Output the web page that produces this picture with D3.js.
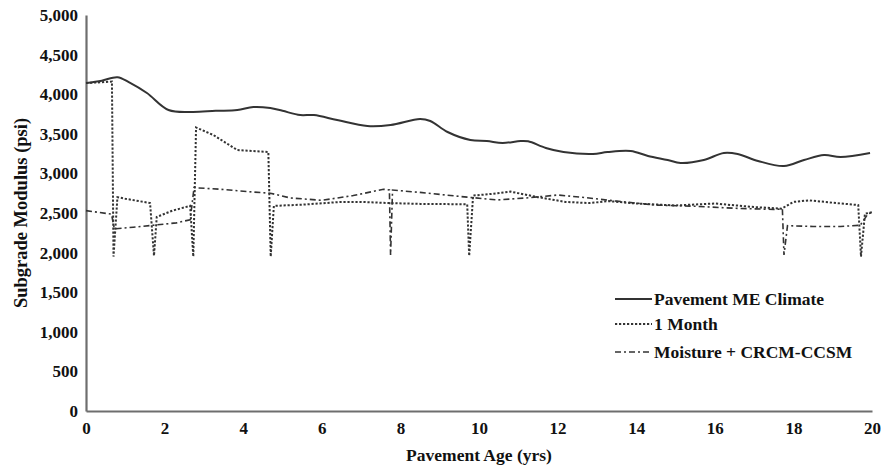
<!DOCTYPE html>
<html>
<head>
<meta charset="utf-8">
<script src="https://cdn.jsdelivr.net/npm/d3@7"></script>
<style>
  html, body { margin: 0; padding: 0; background: #fff; }
  svg { display: block; }
  text { font-family: "Liberation Serif", "Times New Roman", serif; font-weight: bold; fill: #111; }
</style>
</head>
<body>
<svg id="chart" width="885" height="470"></svg>
<script>
// Subgrade modulus over pavement age for three climate inputs
const yTicks = [0, 500, 1000, 1500, 2000, 2500, 3000, 3500, 4000, 4500, 5000];
const xTicks = [0, 2, 4, 6, 8, 10, 12, 14, 16, 18, 20];

// [age (yrs), modulus (psi)]
const pavementMEClimate = [
  [0, 4140], [0.4, 4170], [0.8, 4215], [1.1, 4150], [1.55, 4015], [2.1, 3800],
  [2.7, 3775], [3.3, 3790], [3.85, 3800], [4.26, 3838], [4.69, 3825], [5.0, 3790],
  [5.45, 3737], [5.8, 3737], [6.39, 3674], [7.16, 3598], [7.75, 3611], [8.5, 3687],
  [8.76, 3662], [9.2, 3523], [9.78, 3422], [10.2, 3409], [10.6, 3384], [11.06, 3409],
  [11.25, 3405], [11.7, 3321], [12.15, 3270], [12.9, 3245], [13.27, 3270], [13.86, 3283],
  [14.3, 3220], [14.8, 3169], [15.13, 3131], [15.72, 3169], [16.23, 3258], [16.58, 3245],
  [17.1, 3157], [17.76, 3093], [18.27, 3169], [18.78, 3232], [19.2, 3207], [19.95, 3258]
];

const oneMonth = [
  [0, 4140], [0.66, 4160], [0.70, 1950], [0.80, 2700], [1.0, 2680], [1.63, 2626],
  [1.73, 1960], [1.80, 2450], [2.2, 2530], [2.65, 2590], [2.73, 1950], [2.80, 3580],
  [3.24, 3485], [3.85, 3295], [4.64, 3270], [4.70, 1950], [4.78, 2590], [5.5, 2605],
  [6.5, 2640], [7.0, 2640], [7.75, 2625], [8.5, 2615], [9.7, 2610], [9.75, 1960],
  [9.85, 2720], [10.3, 2740], [10.8, 2770], [11.5, 2700], [12.2, 2640], [12.8, 2625],
  [13.3, 2650], [14.0, 2620], [15.0, 2595], [16.0, 2620], [17.0, 2575], [17.7, 2555],
  [18.0, 2640], [18.4, 2660], [19.0, 2630], [19.65, 2600], [19.72, 1950], [19.82, 2490],
  [20, 2510]
];

const moistureCRCM = [
  [0, 2530], [0.65, 2485], [0.72, 2300], [1.2, 2320], [1.7, 2345], [2.3, 2375],
  [2.65, 2415], [2.75, 2820], [3.4, 2800], [4.26, 2765], [4.69, 2750], [5.2, 2690],
  [6.0, 2660], [6.8, 2720], [7.57, 2800], [7.72, 2790], [7.75, 1970], [7.80, 2790],
  [8.5, 2760], [9.7, 2700], [10.47, 2665], [11.2, 2690], [12.0, 2727], [12.6, 2700],
  [13.5, 2650], [14.5, 2600], [15.5, 2585], [16.5, 2560], [17.5, 2545], [17.72, 2550],
  [17.76, 1970], [17.85, 2340], [18.5, 2330], [19.2, 2330], [19.7, 2345], [19.9, 2490],
  [20, 2510]
];

const seriesNames = ["Pavement ME Climate", "1 Month", "Moisture + CRCM-CCSM"];

const svg = d3.select("#chart");
const margin = { left: 86, top: 15, right: 13, bottom: 59 };
const W = 885, H = 470;

const x = d3.scaleLinear().domain([0, 20]).range([margin.left, W - margin.right]);
const y = d3.scaleLinear().domain([0, 5000]).range([H - margin.bottom, margin.top]);

// axes: plain gray baselines with bold serif labels, no tick marks
const xAxis = d3.axisBottom(x).tickValues(xTicks).tickSize(0).tickPadding(11);
const yAxis = d3.axisLeft(y).tickValues(yTicks).tickSize(0).tickPadding(8)
  .tickFormat(d3.format(","));

const gx = svg.append("g").attr("transform", `translate(0,${y(0)})`).call(xAxis);
const gy = svg.append("g").attr("transform", `translate(${x(0)},0)`).call(yAxis);
[gx, gy].forEach(g => {
  g.select(".domain").attr("stroke", "#6e6e6e").attr("stroke-width", 2.2);
  g.selectAll("text").style("font-family", '"Liberation Serif", serif')
    .style("font-weight", "bold").style("font-size", "17px").attr("fill", "#111");
});

// axis titles
svg.append("text")
  .attr("x", (x(0) + x(20)) / 2).attr("y", 461)
  .attr("text-anchor", "middle").style("font-size", "17.5px")
  .text("Pavement Age (yrs)");
svg.append("text")
  .attr("transform", `translate(27,${(y(0) + y(5000)) / 2}) rotate(-90)`)
  .attr("text-anchor", "middle").style("font-size", "18.5px")
  .text("Subgrade Modulus (psi)");

const styles = [
  { data: pavementMEClimate, dash: null, width: 2, curve: d3.curveCatmullRom },
  { data: oneMonth, dash: "2.2,1.8", width: 2, curve: d3.curveLinear },
  { data: moistureCRCM, dash: "6,3,2,3", width: 1.6, curve: d3.curveLinear }
];

styles.forEach(s => {
  const line = d3.line().x(d => x(d[0])).y(d => y(d[1])).curve(s.curve);
  svg.append("path")
    .datum(s.data)
    .attr("d", line)
    .attr("fill", "none")
    .attr("stroke", "#333")
    .attr("stroke-width", s.width)
    .attr("stroke-dasharray", s.dash);
});

// legend
const legend = svg.append("g").attr("transform", "translate(615,299)");
const rowY = [0, 25, 53];
styles.forEach((s, i) => {
  legend.append("line")
    .attr("x1", 0).attr("x2", 37).attr("y1", rowY[i]).attr("y2", rowY[i])
    .attr("stroke", "#333").attr("stroke-width", s.width)
    .attr("stroke-dasharray", s.dash);
  legend.append("text")
    .attr("x", 39).attr("y", rowY[i] + 6)
    .style("font-size", "17.5px")
    .text(seriesNames[i]);
});
</script>
</body>
</html>
